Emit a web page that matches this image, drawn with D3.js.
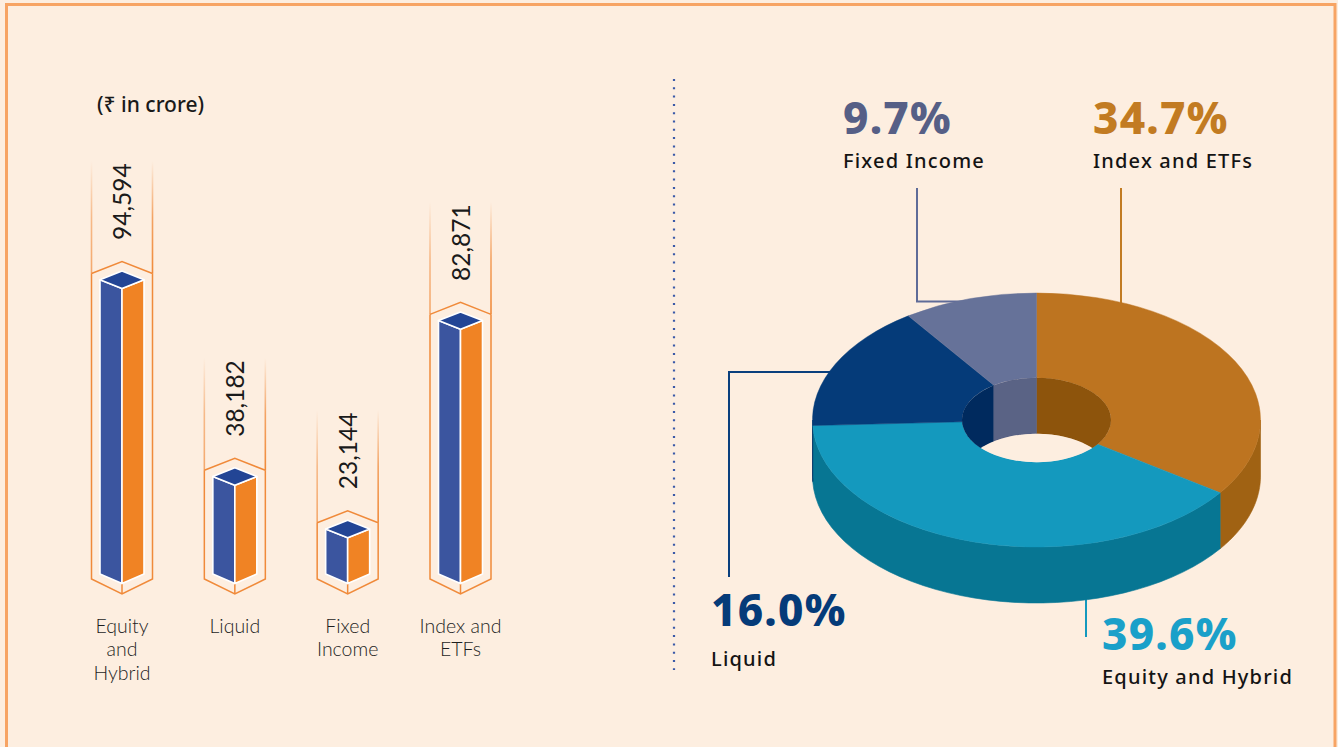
<!DOCTYPE html>
<html>
<head>
<meta charset="utf-8">
<script src="https://cdn.jsdelivr.net/npm/d3@7"></script>
<style>
  html, body { margin: 0; padding: 0; background: #fdeee0; }
  svg { display: block; }
</style>
</head>
<body>
<svg id="chart" width="1338" height="747"></svg>
<script>
// AUM by category (₹ in crore)
const categories = ["Equity and Hybrid", "Liquid", "Fixed Income", "Index and ETFs"];
const aumValues = [94594, 38182, 23144, 82871];
const axisLines = [["Equity", "and", "Hybrid"], ["Liquid"], ["Fixed", "Income"], ["Index and", "ETFs"]];

// share of AUM (%), pie order clockwise from 12 o'clock
const shareNames = ["Index and ETFs", "Equity and Hybrid", "Liquid", "Fixed Income"];
const shareValues = [34.7, 39.6, 16.0, 9.7];

const W = 1338, H = 747;
const BG = "#fdeee0";
const svg = d3.select("#chart");

svg.append("rect").attr("width", W).attr("height", H).attr("fill", BG);
svg.append("rect")
  .attr("x", 6.5).attr("y", 4.5).attr("width", 1328.5).attr("height", 760)
  .attr("fill", "none").attr("stroke", "#f7a464").attr("stroke-width", 3);

const defs = svg.append("defs");
const fade = defs.append("linearGradient").attr("id", "fade")
  .attr("x1", 0).attr("y1", 0).attr("x2", 0).attr("y2", 1);
fade.append("stop").attr("offset", 0).attr("stop-color", "#f08a3a").attr("stop-opacity", 0);
fade.append("stop").attr("offset", 0.5).attr("stop-color", "#f08a3a").attr("stop-opacity", 0.75);
fade.append("stop").attr("offset", 1).attr("stop-color", "#f08a3a").attr("stop-opacity", 1);

// ---------------- bars ----------------
const x = d3.scalePoint().domain(categories).range([122, 460.5]);
const y = d3.scaleLinear().domain([0, d3.max(aumValues)]).range([601, 271]); // back vertex of top
const bw = 22, bd = 8.7;            // half width, iso drop
const ow = 30.5;                    // outline half width
const baseCorner = 574, baseFront = 583.5;
const outCorner = 579, outBottom = 594;

svg.append("text")
  .attr("x", 97).attr("y", 112)
  .attr("font-family", "Noto Sans, DejaVu Sans, sans-serif")
  .attr("font-weight", 500).attr("font-size", 21).attr("fill", "#1a1a1a")
  .text("(₹ in crore)");

const bars = svg.append("g")
  .selectAll("g")
  .data(categories)
  .enter()
  .append("g");

bars.each(function (c, i) {
  const g = d3.select(this);
  const cx = x(c);
  const pk = y(aumValues[i]);
  const lineTop = pk - 110;
  const chevron = pk + 2.5;

  // fading side rails
  [cx - ow, cx + ow].forEach((lx, k) => {
    g.append("rect")
      .attr("x", lx - 0.8).attr("y", lineTop)
      .attr("width", 1.6).attr("height", chevron - lineTop)
      .attr("fill", "url(#fade)")
      .attr("opacity", k === 0 ? 0.7 : 1);
  });
  g.append("path")
    .attr("d", `M${cx - ow},${chevron} L${cx},${pk - 9.5} L${cx + ow},${chevron}` +
      ` M${cx - ow},${chevron} V${outCorner} L${cx},${outBottom} L${cx + ow},${outCorner} V${chevron}` +
      ` M${cx},${baseFront} V${outBottom}`)
    .attr("fill", "none").attr("stroke", "#f08a3a").attr("stroke-width", 1.5)
    .attr("stroke-linejoin", "miter");

  // cuboid faces
  const faces = [
    { fill: "#3b559f", pts: [[cx - bw, pk + bd], [cx, pk + 2 * bd], [cx, baseFront], [cx - bw, baseCorner]] },
    { fill: "#f08324", pts: [[cx, pk + 2 * bd], [cx + bw, pk + bd], [cx + bw, baseCorner], [cx, baseFront]] },
    { fill: "#234595", pts: [[cx, pk], [cx + bw, pk + bd], [cx, pk + 2 * bd], [cx - bw, pk + bd]] },
  ];
  g.selectAll("polygon")
    .data(faces)
    .enter()
    .append("polygon")
    .attr("points", (f) => f.pts.map((p) => p.join(",")).join(" "))
    .attr("fill", (f) => f.fill)
    .attr("stroke", "#ffffff").attr("stroke-width", 1.6)
    .attr("stroke-linejoin", "round");

  // value label, rotated
  g.append("text")
    .attr("transform", `translate(${cx + 9},${pk - 31}) rotate(-90)`)
    .attr("font-family", "Lato, sans-serif").attr("font-weight", 400)
    .attr("font-size", 24.5).attr("fill", "#1a1a1a")
    .text(d3.format(",")(aumValues[i]));

  // category label
  const t = g.append("text")
    .attr("text-anchor", "middle")
    .attr("font-family", "Lato, sans-serif").attr("font-weight", 300)
    .attr("font-size", 19.5).attr("fill", "#1e1e1e");
  axisLines[i].forEach((ln, k) => {
    t.append("tspan").attr("x", cx).attr("y", 632.5 + k * 23.8).text(ln);
  });
});

// divider
svg.append("line")
  .attr("x1", 674).attr("x2", 674).attr("y1", 79).attr("y2", 670)
  .attr("stroke", "#3b5aa8").attr("stroke-width", 2.2)
  .attr("stroke-dasharray", "2 6.3");

// ---------------- 3D donut ----------------
const cx = 1036.5, cy = 420, rx = 224, ry = 127, irx = 74.5, iry = 74.5 * ry / rx, depth = 56;
const sliceColors = {
  "Index and ETFs": { top: "#bd7420", side: "#a06213", wall: "#8d540c", text: "#c27b22", line: "#c27b22" },
  "Equity and Hybrid": { top: "#1499be", side: "#077693", wall: "#066a85", text: "#1aa0c9", line: "#1499be" },
  "Liquid": { top: "#053b79", side: "#042f62", wall: "#002a5e", text: "#053b79", line: "#0a3f7d" },
  "Fixed Income": { top: "#667299", side: "#4f5a80", wall: "#5a6385", text: "#565f86", line: "#5f6b98" },
};

// leader lines go underneath the donut
const leaders = [
  { name: "Fixed Income", d: "M917,188 V301.5 H1000" },
  { name: "Index and ETFs", d: "M1121,188 V320" },
  { name: "Liquid", d: "M729,577 V372 H870" },
  { name: "Equity and Hybrid", d: "M1086,590 V637" },
];
svg.append("g").selectAll("path")
  .data(leaders)
  .enter()
  .append("path")
  .attr("d", (d) => d.d)
  .attr("fill", "none")
  .attr("stroke", (d) => sliceColors[d.name].line)
  .attr("stroke-width", 2);

const arcs = d3.pie().sort(null).value((d) => d)(shareValues)
  .map((a, i) => Object.assign(a, { name: shareNames[i] }));

function pt(a, r1, r2, dy) {
  return [cx + r1 * Math.sin(a), cy - r2 * Math.cos(a) + dy];
}
function wallPath(a0, a1, r1, r2) {
  const n = 40;
  const top = d3.range(n + 1).map((k) => pt(a0 + (a1 - a0) * k / n, r1, r2, 0));
  const bot = d3.range(n + 1).map((k) => pt(a1 - (a1 - a0) * k / n, r1, r2, depth));
  return "M" + top.concat(bot).map((p) => p.join(",")).join("L") + "Z";
}
function clipRange(a0, a1, lo, hi) {
  const s = Math.max(a0, lo), e = Math.min(a1, hi);
  return s < e ? [s, e] : null;
}

const pieG = svg.append("g");

// outer front walls
const outerWalls = [];
arcs.forEach((a) => {
  const r = clipRange(a.startAngle, a.endAngle, Math.PI / 2, 3 * Math.PI / 2);
  if (r) outerWalls.push({ name: a.name, r });
});
pieG.append("g").selectAll("path")
  .data(outerWalls)
  .enter()
  .append("path")
  .attr("d", (w) => wallPath(w.r[0], w.r[1], rx, ry))
  .attr("fill", (w) => sliceColors[w.name].side)
  .attr("stroke", (w) => sliceColors[w.name].side).attr("stroke-width", 0.6);

// top faces
const arcGen = d3.arc().innerRadius(irx).outerRadius(rx);
pieG.append("g")
  .attr("transform", `translate(${cx},${cy}) scale(1,${ry / rx})`)
  .selectAll("path")
  .data(arcs)
  .enter()
  .append("path")
  .attr("d", arcGen)
  .attr("fill", (a) => sliceColors[a.name].top)
  .attr("stroke", (a) => sliceColors[a.name].top).attr("stroke-width", 0.6);

// hole: back inner wall + floor
defs.append("clipPath").attr("id", "hole")
  .append("ellipse").attr("cx", cx).attr("cy", cy).attr("rx", irx).attr("ry", iry);
const holeG = pieG.append("g").attr("clip-path", "url(#hole)");
const innerWalls = [];
arcs.forEach((a) => {
  [[0, Math.PI / 2], [3 * Math.PI / 2, 2 * Math.PI]].forEach((rg) => {
    const r = clipRange(a.startAngle, a.endAngle, rg[0], rg[1]);
    if (r) innerWalls.push({ name: a.name, r });
  });
});
holeG.selectAll("path")
  .data(innerWalls)
  .enter()
  .append("path")
  .attr("d", (w) => wallPath(w.r[0], w.r[1], irx, iry))
  .attr("fill", (w) => sliceColors[w.name].wall)
  .attr("stroke", (w) => sliceColors[w.name].wall).attr("stroke-width", 0.6);
holeG.append("ellipse")
  .attr("cx", cx).attr("cy", cy + depth).attr("rx", irx).attr("ry", iry)
  .attr("fill", BG);

// percentage labels
const labelPos = {
  "Fixed Income": [843, 133.5, 167.5],
  "Index and ETFs": [1093, 133.5, 167.5],
  "Liquid": [711, 626, 665.5],
  "Equity and Hybrid": [1102, 650, 684],
};
const labels = svg.append("g").selectAll("g")
  .data(arcs)
  .enter()
  .append("g");
labels.append("text")
  .attr("x", (a) => labelPos[a.name][0])
  .attr("y", (a) => labelPos[a.name][1])
  .attr("font-family", "Noto Sans, sans-serif").attr("font-weight", 800)
  .attr("font-size", 44).attr("letter-spacing", 1.2)
  .attr("fill", (a) => sliceColors[a.name].text)
  .text((a) => d3.format(".1f")(a.data) + "%");
labels.append("text")
  .attr("x", (a) => labelPos[a.name][0])
  .attr("y", (a) => labelPos[a.name][2])
  .attr("font-family", "Noto Sans, sans-serif").attr("font-weight", 500)
  .attr("font-size", 20).attr("letter-spacing", 1.2)
  .attr("fill", "#141414")
  .text((a) => a.name);
</script>
</body>
</html>
